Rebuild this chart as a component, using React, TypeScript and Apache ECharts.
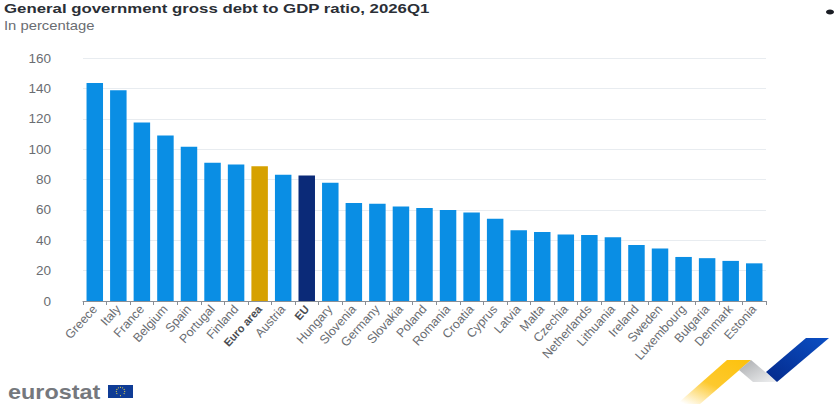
import React, { useEffect, useRef } from "react";
import * as echarts from "echarts";

const categories = ["Greece","Italy","France","Belgium","Spain","Portugal","Finland","Euro area","Austria","EU","Hungary","Slovenia","Germany","Slovakia","Poland","Romania","Croatia","Cyprus","Latvia","Malta","Czechia","Netherlands","Lithuania","Ireland","Sweden","Luxembourg","Bulgaria","Denmark","Estonia"];
const values = [143.5,138.8,117.5,109,101.5,91,89.8,88.8,83.2,82.6,77.8,64.6,64,62.2,61.2,60,58.2,54.2,46.6,45.5,43.8,43.4,42,36.8,34.6,29,28.2,26.4,24.8];
const yTicks = [0,20,40,60,80,100,120,140,160];
const titleText = "General government gross debt to GDP ratio, 2026Q1";
const subtitleText = "In percentage";
const FONT = "'Liberation Sans', Arial, sans-serif";

const barColor = (name: string) => name === "Euro area" ? "#d6a100" : name === "EU" ? "#0b2a78" : "#0a8ee4";

export default function App() {
  const ref = useRef<HTMLDivElement>(null);
  useEffect(() => {
    const chart = echarts.init(ref.current!, undefined, { renderer: "svg" });
    const stars = Array.from({ length: 12 }, (_, i) => ({
      type: "circle",
      shape: { cx: 120.5 + 4.2 * Math.cos((i * Math.PI) / 6), cy: 391.5 + 4.2 * Math.sin((i * Math.PI) / 6), r: 0.55 },
      style: { fill: "#e8d44a" },
    }));
    chart.setOption({
      animation: false,
      backgroundColor: "#ffffff",
      textStyle: { fontFamily: FONT },
      grid: { left: 83, right: 69, top: 58, height: 243, containLabel: false },
      xAxis: {
        type: "category",
        data: categories,
        axisTick: { show: true, alignWithLabel: false, length: 4, lineStyle: { color: "#8a8f96" } },
        axisLine: { lineStyle: { color: "#8a8f96" } },
        axisLabel: {
          interval: 0,
          rotate: 48,
          margin: 6,
          fontSize: 12.4,
          fontFamily: FONT,
          color: "#6a6d72",
          formatter: (v: string) => (v === "Euro area" || v === "EU" ? `{b|${v}}` : v),
          rich: { b: { fontWeight: "bold", fontSize: 11, fontFamily: FONT, color: "#4a4d52" } },
        },
      },
      yAxis: {
        type: "value",
        min: yTicks[0],
        max: yTicks[yTicks.length - 1],
        interval: 20,
        axisLabel: { fontSize: 13.5, fontFamily: FONT, color: "#6a6d72", margin: 32 },
        axisLine: { show: false },
        axisTick: { show: false },
        splitLine: { lineStyle: { color: "#e8ecf0" } },
      },
      series: [{
        type: "bar",
        barWidth: "70%",
        data: values.map((v, i) => ({ value: v, itemStyle: { color: barColor(categories[i]) } })),
      }],
      graphic: [
        { type: "text", x: 4, y: 1, scaleX: 1.245, style: { text: titleText, fontFamily: FONT, fontSize: 13.5, fontWeight: "bold", fill: "#2b2f36" } },
        { type: "text", x: 4, y: 19, scaleX: 1.14, style: { text: subtitleText, fontFamily: FONT, fontSize: 13, fill: "#6a6d72" } },
        { type: "text", x: 8, y: 382, scaleX: 1.17, style: { text: "eurostat", fontFamily: FONT, fontSize: 20, fontWeight: "bold", fill: "#75787d" } },
        { type: "rect", shape: { x: 108, y: 385, width: 25, height: 13 }, style: { fill: "#0f3c96" } },
        ...stars,
        { type: "polygon", shape: { points: [[727,360],[751,360],[700,404],[677,404]] },
          style: { fill: { type: "linear", x: 0.9, y: 0, x2: 0.1, y2: 1, colorStops: [{ offset: 0, color: "#fdc20f" }, { offset: 0.55, color: "#fdc92e" }, { offset: 1, color: "#ffffff" }] } } },
        { type: "polygon", shape: { points: [[751,360],[777,382],[753,382],[739,370]] },
          style: { fill: { type: "linear", x: 0, y: 0, x2: 1, y2: 1, colorStops: [{ offset: 0, color: "#a9abae" }, { offset: 1, color: "#f1f2f3" }] } } },
        { type: "polygon", shape: { points: [[806,338],[829,338],[777,382],[766,372]] },
          style: { fill: { type: "linear", x: 1, y: 0, x2: 0, y2: 1, colorStops: [{ offset: 0, color: "#0b4fc4" }, { offset: 1, color: "#04298a" }] } } },
        { type: "ellipse", shape: { cx: 830, cy: 12, rx: 4, ry: 2.5 }, style: { fill: "#1a1d24" } },
      ],
    });
    return () => chart.dispose();
  }, []);
  return <div ref={ref} style={{ position: "absolute", left: 0, top: 0, width: 835, height: 412 }} />;
}
